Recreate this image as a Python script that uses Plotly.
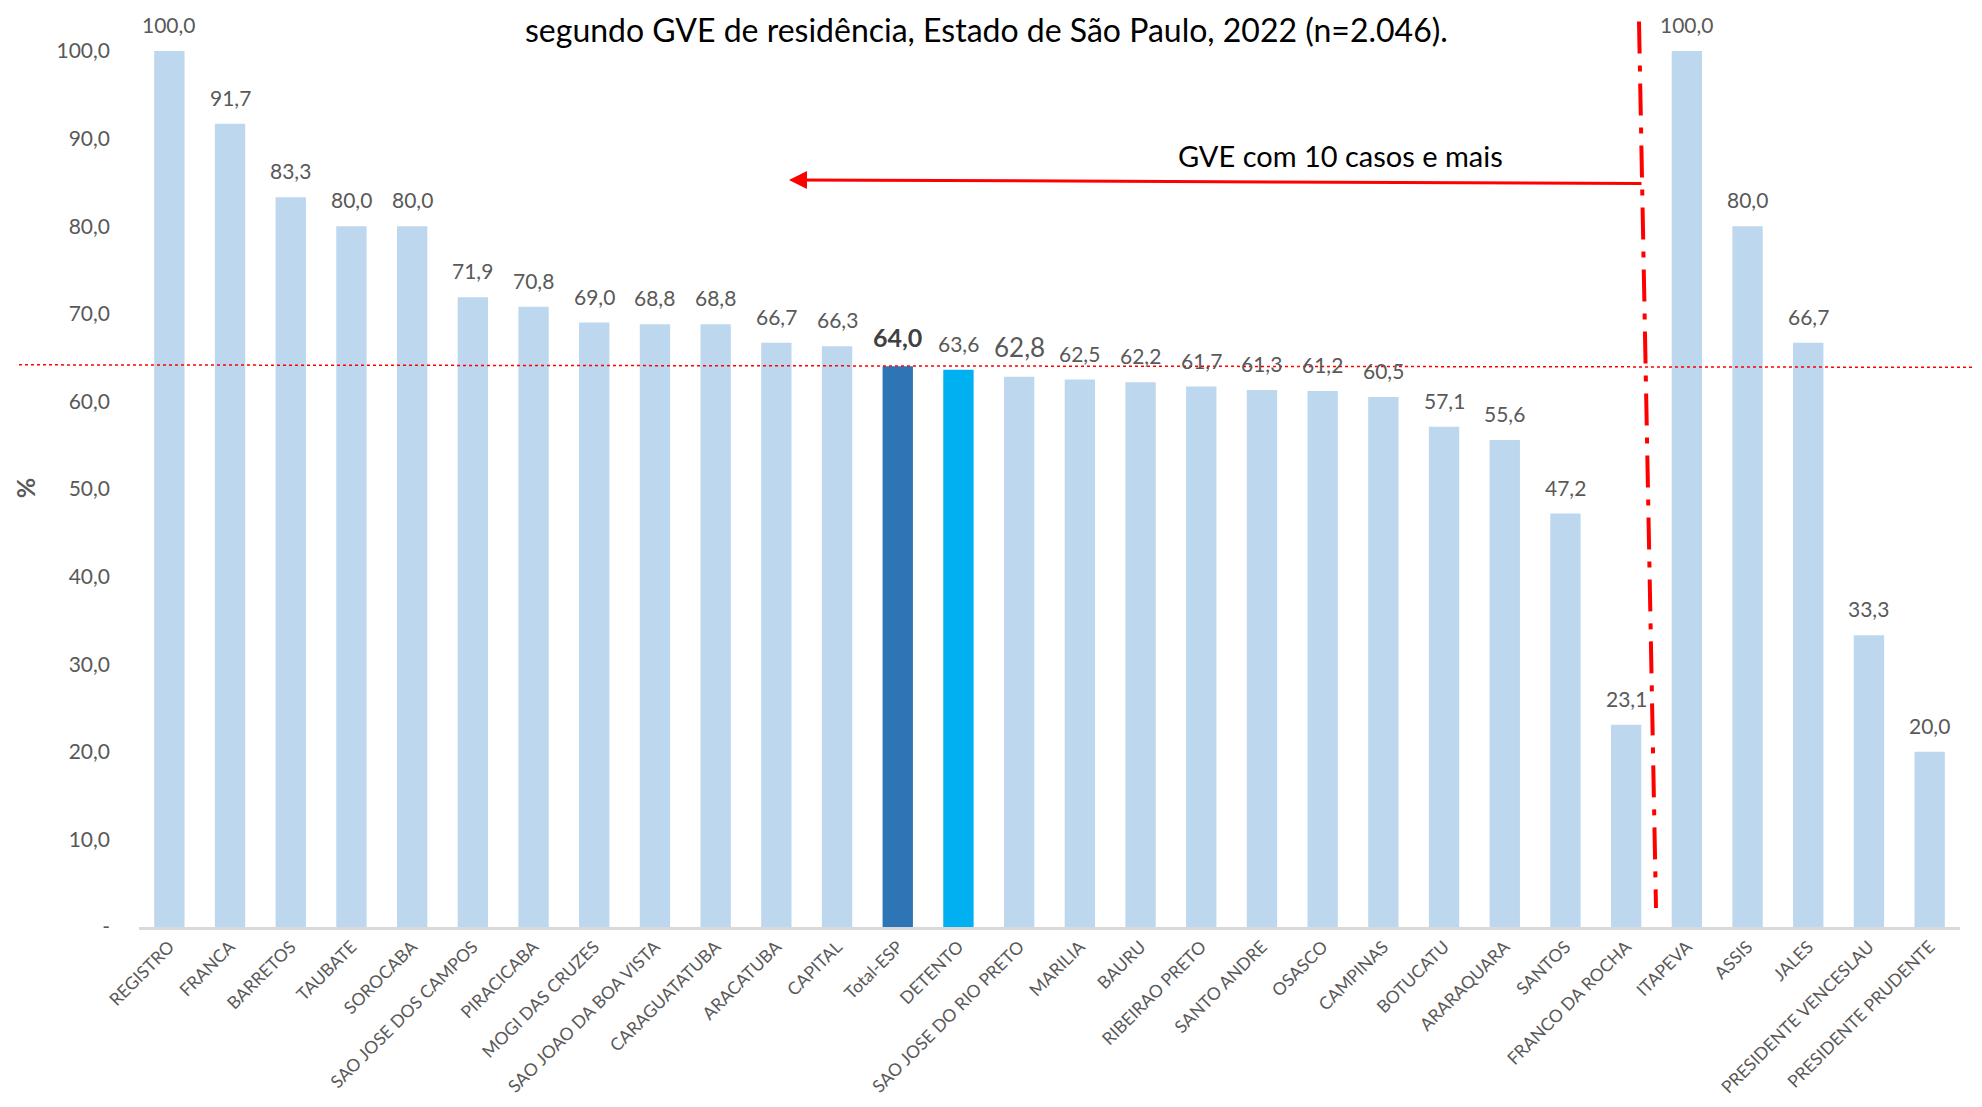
import plotly.graph_objects as go

categories = ["REGISTRO", "FRANCA", "BARRETOS", "TAUBATE", "SOROCABA", "SAO JOSE DOS CAMPOS",
              "PIRACICABA", "MOGI DAS CRUZES", "SAO JOAO DA BOA VISTA", "CARAGUATATUBA",
              "ARACATUBA", "CAPITAL", "Total-ESP", "DETENTO", "SAO JOSE DO RIO PRETO",
              "MARILIA", "BAURU", "RIBEIRAO PRETO", "SANTO ANDRE", "OSASCO", "CAMPINAS",
              "BOTUCATU", "ARARAQUARA", "SANTOS", "FRANCO DA ROCHA", "ITAPEVA", "ASSIS",
              "JALES", "PRESIDENTE VENCESLAU", "PRESIDENTE PRUDENTE"]
values = [100.0, 91.7, 83.3, 80.0, 80.0, 71.9, 70.8, 69.0, 68.8, 68.8, 66.7, 66.3, 64.0, 63.6,
          62.8, 62.5, 62.2, 61.7, 61.3, 61.2, 60.5, 57.1, 55.6, 47.2, 23.1, 100.0, 80.0, 66.7,
          33.3, 20.0]
y_ticks = [0, 10, 20, 30, 40, 50, 60, 70, 80, 90, 100]
y_ticktext = ["-"] + [f"{v:.1f}".replace(".", ",") for v in y_ticks[1:]]
total_value = 64.0
title_text = "segundo GVE de residência, Estado de São Paulo, 2022 (n=2.046)."
note_text = "GVE com 10 casos e mais"

# page coordinates (browser window) and body offset of 8px
OFF = 8
PW, PH = 1982, 1107
W, H = PW - 2 * OFF, PH - 2 * OFF
L, R, T, B = 139, 1960, 50.5, 927   # plot area in page pixels

def px(p):
    return (p - L) / (R - L)

def py(p):
    return (B - p) / (B - T)

special_colors = {"Total-ESP": "#2E75B6", "DETENTO": "#00B0F0"}
colors = [special_colors.get(c, "#BDD7EE") for c in categories]

FONT = "Lato"
GRAY = "#595959"

fig = go.Figure()
fig.add_trace(go.Bar(x=categories, y=values, marker=dict(color=colors, line=dict(width=0)),
                     width=0.5, hoverinfo="x+y"))

annotations = []
for c, v in zip(categories, values):
    txt = f"{v:.1f}".replace(".", ",")
    size = 21
    color = GRAY
    if c == "Total-ESP":
        txt = f"<b>{txt}</b>"
        size = 25
        color = "#404040"
    elif c == "SAO JOSE DO RIO PRETO":
        size = 26
    annotations.append(dict(x=c, y=v, xref="x", yref="y", text=txt, showarrow=False,
                            yanchor="bottom", yshift=12,
                            font=dict(family=FONT, size=size, color=color)))

annotations.append(dict(x=px(986), y=py(OFF), xref="paper", yref="paper", text=title_text,
                        showarrow=False, xanchor="center", yanchor="top", borderpad=0,
                        font=dict(family=FONT, size=32, color="#000000")))
annotations.append(dict(x=px(1340), y=py(155), xref="paper", yref="paper", text=note_text,
                        showarrow=False, xanchor="center", yanchor="middle",
                        font=dict(family=FONT, size=29, color="#000000")))
annotations.append(dict(x=px(789), y=py(179.5), xref="paper", yref="paper", text="",
                        showarrow=True, axref="pixel", ayref="pixel", ax=854, ay=3.5,
                        arrowhead=2, arrowsize=1.2, arrowwidth=3, arrowcolor="#FF0000",
                        standoff=0, startstandoff=0))
annotations.append(dict(x=px(25), y=py(488), xref="paper", yref="paper", text="<b>%</b>",
                        showarrow=False, textangle=-90, xanchor="center", yanchor="middle",
                        font=dict(family=FONT, size=25, color=GRAY)))

shapes = [
    dict(type="line", xref="paper", yref="paper", x0=px(19), x1=px(1982), y0=py(364.5), y1=py(367),
         line=dict(color="#FF0000", width=1.5, dash="dot"), layer="above"),
    dict(type="line", xref="paper", yref="paper", x0=px(1639), x1=px(1656), y0=py(21), y1=py(908),
         line=dict(color="#FF0000", width=4, dash="32px,12px,6px,12px"), layer="above"),
]

fig.update_layout(
    width=W, height=H,
    margin=dict(l=L - OFF, r=(PW - OFF) - R, t=T - OFF, b=(H + OFF) - B, pad=0,
                autoexpand=False),
    paper_bgcolor="white", plot_bgcolor="white",
    showlegend=False,
    bargap=0.5,
    font=dict(family=FONT, color=GRAY),
    annotations=annotations,
    shapes=shapes,
    xaxis=dict(type="category", tickangle=-45, showgrid=False, showline=True, automargin=False,
               linecolor="#D9D9D9", linewidth=2.5, ticks="", ticklabelstandoff=0,
               tickfont=dict(family=FONT, size=17.5, color=GRAY), range=[-0.5, len(categories) - 0.5]),
    yaxis=dict(range=[0, 100], tickvals=y_ticks, ticktext=y_ticktext, showgrid=False, automargin=False,
               showline=False, zeroline=False, ticks="", ticklabelstandoff=28,
               tickfont=dict(family=FONT, size=21, color=GRAY)),
)

fig.write_html("out.html")
